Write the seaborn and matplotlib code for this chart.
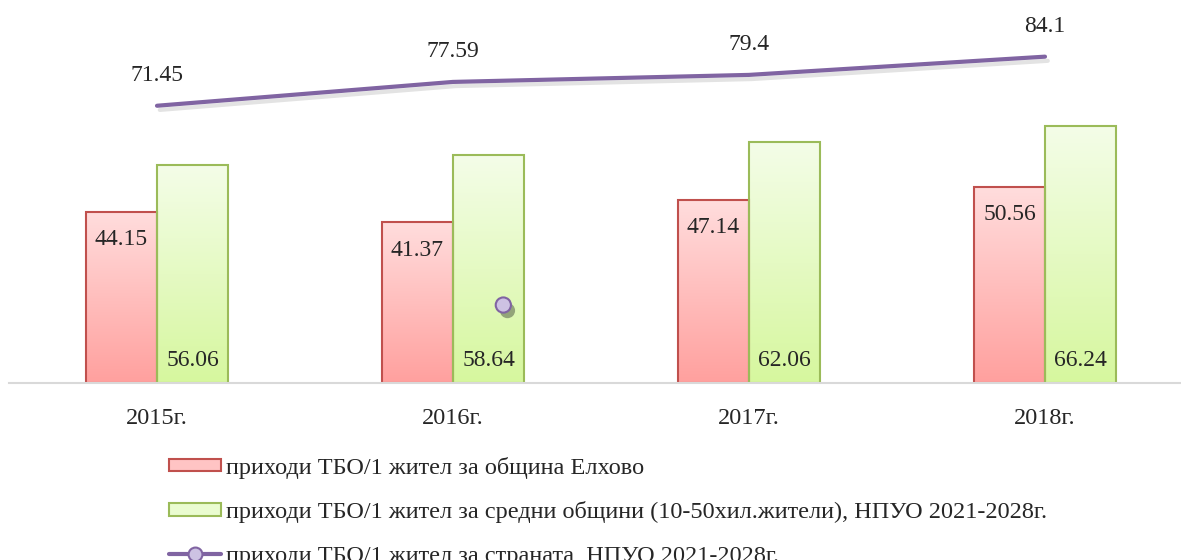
import numpy as np
import pandas as pd
import matplotlib.pyplot as plt
import matplotlib.patheffects as pe
from matplotlib.colors import LinearSegmentedColormap
from matplotlib.lines import Line2D
from matplotlib.patches import Patch
import seaborn as sns

years = ["2015г.", "2016г.", "2017г.", "2018г."]
elhovo = [44.15, 41.37, 47.14, 50.56]
medium = [56.06, 58.64, 62.06, 66.24]
country = [71.45, 77.59, 79.4, 84.1]

label_elhovo = "приходи ТБО/1 жител за община Елхово"
label_medium = "приходи ТБО/1 жител за средни общини (10-50хил.жители), НПУО 2021-2028г."
label_country = "приходи ТБО/1 жител за страната, НПУО 2021-2028г."

# stray marker that sits on the 2016 green bar in the original
stray_x = 1.17
stray_y = 20.1

RED_EDGE = "#c0504d"
GREEN_EDGE = "#9bbb59"
PURPLE = "#8064a2"

sns.set_style("white")
plt.rcParams["font.family"] = ["Liberation Serif", "DejaVu Serif"]

df = pd.DataFrame({
    "year": years * 2,
    "value": elhovo + medium,
    "series": ["elhovo"] * len(years) + ["medium"] * len(years),
})

fig = plt.figure(figsize=(11.81, 5.6), dpi=100)
ax = fig.add_axes([9 / 1181, 0.316, 1184 / 1181, 0.684])

sns.barplot(data=df, x="year", y="value", hue="series", order=years,
            hue_order=["elhovo", "medium"], width=0.48, legend=False,
            palette=["#ffb0b0", "#e4fac0"], ax=ax)

grad_red = LinearSegmentedColormap.from_list("r", ["#ffa09e", "#ffdddd"])
grad_green = LinearSegmentedColormap.from_list("g", ["#d6f79e", "#f4fde8"])
grad = np.linspace(0, 1, 256).reshape(-1, 1)

bars = list(ax.patches)
n = len(years)
for i, bar in enumerate(bars):
    is_red = i < n
    x0, y0 = bar.get_x(), bar.get_y()
    w, h = bar.get_width(), bar.get_height()
    im = ax.imshow(grad, cmap=grad_red if is_red else grad_green, origin="lower",
                   extent=[x0, x0 + w, y0, y0 + h], aspect="auto", zorder=1)
    im.set_clip_path(bar)
    bar.set_facecolor("none")
    bar.set_edgecolor(RED_EDGE if is_red else GREEN_EDGE)
    bar.set_linewidth(1.5)
    bar.set_zorder(2)

for bar, v in zip(bars[:n], elhovo):
    ax.annotate(f"{v:.2f}", (bar.get_x() + bar.get_width() / 2, v),
                xytext=(0, -20), textcoords="offset points",
                ha="center", va="center", fontsize=17, zorder=5)
for bar, v in zip(bars[n:], medium):
    ax.annotate(f"{v:.2f}", (bar.get_x() + bar.get_width() / 2, 0),
                xytext=(0, 16), textcoords="offset points",
                ha="center", va="center", fontsize=17, zorder=5)

sns.lineplot(x=years, y=country, color=PURPLE, linewidth=3, ax=ax, zorder=4,
             path_effects=[pe.SimpleLineShadow(offset=(2, -3), shadow_color="gray", alpha=0.22),
                           pe.Normal()])
for i, v in enumerate(country):
    ax.annotate(str(v), (i, v), xytext=(0, 22), textcoords="offset points",
                ha="center", va="center", fontsize=17)

sns.scatterplot(x=[stray_x], y=[stray_y], s=120, color="#cdc2e3", edgecolor=PURPLE,
                linewidth=1.5, ax=ax, zorder=6,
                path_effects=[pe.SimplePatchShadow(offset=(3, -4), shadow_rgbFace="#55604a", alpha=0.55),
                              pe.Normal()])

ax.set_xlim(-0.5, 3.5)
ax.set_ylim(0, 98.7)
ax.set_xlabel("")
ax.set_ylabel("")
ax.set_yticks([])
for s in ["top", "right", "left"]:
    ax.spines[s].set_visible(False)
ax.spines["bottom"].set_color("#d9d9d9")
ax.spines["bottom"].set_linewidth(1.5)
ax.tick_params(axis="x", length=0, pad=18, labelsize=17.5)

handles = [
    Patch(facecolor="#ffc4c4", edgecolor=RED_EDGE, linewidth=1.5),
    Patch(facecolor="#eafcd0", edgecolor=GREEN_EDGE, linewidth=1.5),
    Line2D([], [], color=PURPLE, linewidth=3, marker="o", markersize=10,
           markerfacecolor="#cdc2e3", markeredgecolor=PURPLE, markeredgewidth=1.5),
]
fig.legend(handles, [label_elhovo, label_medium, label_country],
           loc="upper left", bbox_to_anchor=(0.135, 0.202), frameon=False,
           fontsize=17.5, handlelength=2.15, handleheight=0.42, handletextpad=0.2,
           labelspacing=0.93, numpoints=1, borderaxespad=0)

fig.savefig("out.png", dpi=100)
